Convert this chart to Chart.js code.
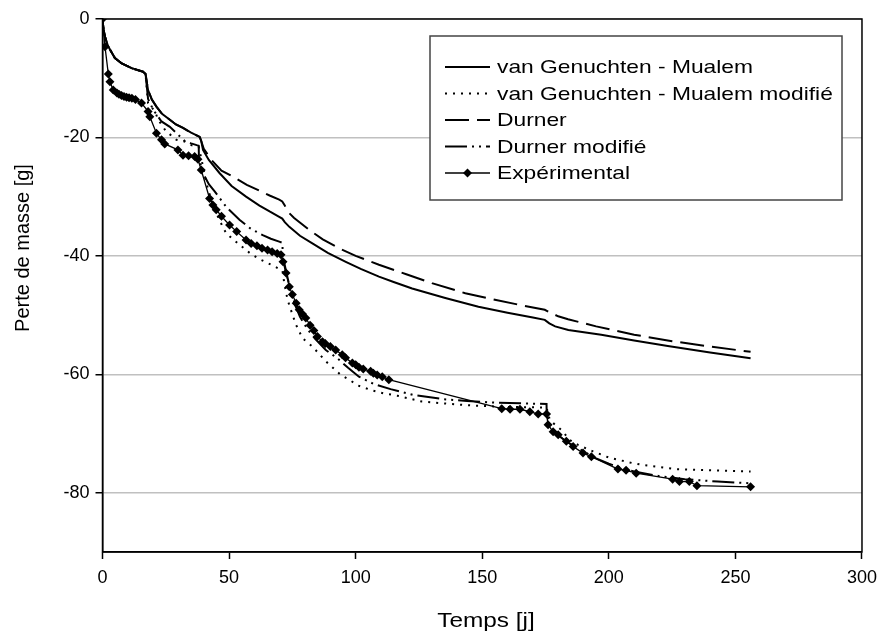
<!DOCTYPE html>
<html lang="fr">
<head>
<meta charset="utf-8">
<title>Perte de masse</title>
<script src="https://cdn.jsdelivr.net/npm/chart.js@4.4.1/dist/chart.umd.min.js"></script>
<style>
  html, body { margin: 0; padding: 0; background: #fff; }
  #wrap { position: relative; width: 885px; height: 642px; }
</style>
</head>
<body>
<div id="wrap"><canvas id="chart"></canvas></div>
<script>
// ---- Données (temps [j], perte de masse [g]) ----
const vgmT = [0, 0.4, 1, 2, 3, 4.9, 7.6, 11.5, 16, 17, 18, 19.5, 21.3, 23.5, 26.6, 29, 31.8, 35, 38.4,
  39, 39.7, 42, 46.2, 51, 56.7, 62, 66, 69.8, 71, 72, 73.8, 78, 82.9, 89, 96.1, 102, 109.2, 115, 122.3,
  135.4, 148.5, 160, 170, 174.7, 176.5, 178.8, 184, 197, 210, 223.3, 240, 256];
const vgmM = [0, -1.8, -3.0, -4.4, -5.2, -6.6, -7.5, -8.3, -8.9, -9.3, -12, -13.6, -14.8, -16, -17, -17.8, -18.4, -19.2, -19.9,
  -20.6, -22.1, -23.8, -26, -28.2, -30, -31.5, -32.5, -33.4, -33.7, -34.3, -35.1, -36.6, -37.9, -39.5, -41, -42.2, -43.5, -44.4, -45.5,
  -47.1, -48.6, -49.6, -50.4, -50.8, -51.4, -51.9, -52.5, -53.3, -54.3, -55.2, -56.3, -57.3];

const vgmModT = [0, 0.4, 1, 2, 3, 4.9, 7.6, 11.5, 16, 17, 18, 20.7, 22, 25, 29.2, 32.5, 35.1, 38,
  39.5, 41, 43, 45.6, 47.5, 48.9, 51, 54.1, 58.7, 62.3, 65.2, 68.5, 71.1,
  71.8, 73.1, 74.4, 76.4, 79, 82.9, 88.2, 94.1, 97.4, 101, 106.5, 111, 116.4, 126.2, 137.4, 147.2, 160, 175.4,
  176.7, 179, 181.3, 184.6, 187.8, 193.7, 200.3, 209.5, 213.4, 226.5, 239.7, 256];
const vgmModM = [0, -1.8, -3.0, -4.4, -5.2, -6.6, -7.5, -8.3, -8.9, -9.3, -14.2, -15.6, -17, -18.9, -20.4, -20.7, -21.3, -21.6,
  -24.5, -27.7, -30.6, -33.4, -35.1, -36.2, -37, -38.1, -39.7, -40.6, -41.2, -41.9, -42.5,
  -44.6, -47.4, -49.1, -51.6, -53.9, -55.3, -57.8, -60.1, -60.9, -61.9, -62.7, -63.2, -63.6, -64.6, -65, -65.3, -65.5, -65.6,
  -67.7, -68.6, -69.4, -71.1, -71.9, -73, -74.1, -75, -75.3, -76, -76.2, -76.4];

const durT = [0, 0.4, 1, 2, 3, 4.9, 7.6, 11.5, 16, 17, 18, 19.5, 21.3, 23.5, 26.6, 29, 31.8, 35, 38.4,
  39, 40, 43, 47, 51.5, 57, 62.6, 66, 69.8,
  71, 72, 73.1, 75.7, 81.6, 87, 93.4, 100, 109.2, 120, 130.1, 143.3, 155, 165, 174.7,
  177, 180, 183.9, 195, 210, 225, 240, 256];
const durM = [0, -1.8, -3.0, -4.4, -5.2, -6.6, -7.5, -8.3, -8.9, -9.3, -12, -13.6, -14.8, -16, -17, -17.8, -18.4, -19.2, -19.9,
  -20.6, -21.9, -23.8, -25.6, -26.6, -28, -29.1, -29.8, -30.5,
  -30.8, -31.5, -32.5, -33.6, -35.6, -37.2, -38.7, -40, -41.5, -43.1, -44.6, -46.3, -47.4, -48.3, -49.1,
  -49.6, -50.2, -50.7, -51.9, -53.3, -54.4, -55.3, -56.2];

const durModT = [0, 0.4, 1, 2, 3, 4.9, 7.6, 11.5, 16, 17, 18, 20, 23.3, 26.6, 30, 32.5, 35, 37.2, 38,
  38.1, 40, 42, 44.3, 49, 54.1, 58.5, 63.3, 66.5, 69.8, 71.1,
  71.15, 72.5, 74, 76, 78, 81, 84, 88.2, 92.8, 97, 101.3, 107, 113.8, 122.9, 134.7, 144, 155.7, 165, 175.4,
  175.45, 176.5, 178, 180, 183, 186, 190, 195, 200, 205, 210, 220, 230, 243, 256];
const durModM = [0, -1.8, -3.0, -4.4, -5.2, -6.6, -7.5, -8.3, -8.9, -9.3, -13.5, -15.3, -17.3, -18.2, -19.6, -20.6, -21, -21.3, -21.4,
  -23.7, -26.3, -27.9, -29.1, -31.8, -33.9, -35.4, -36.5, -37.1, -37.6, -37.8,
  -39.8, -42.6, -45.3, -48.2, -50.3, -52.4, -54, -55.9, -57.3, -58.9, -60.4, -61.6, -62.5, -63.5, -64.2, -64.5, -64.8, -64.9, -65,
  -66.7, -68.3, -69.5, -70.3, -71.3, -72, -73, -74.2, -75.1, -75.8, -76.4, -77.2, -77.7, -78.1, -78.4];

const expT = [0, 1, 2.3, 2.95, 4.25, 5.7, 6.5, 7.5, 8.5, 9.5, 10.5, 11.6, 13,
  15.4, 18, 18.7, 21.3, 23.3, 24.6, 29.8, 31.8, 34, 36.4, 37.7,
  39, 42.3, 43.6, 44.9, 47, 50.2, 53, 56.7, 58.7, 61, 63, 65.2, 67, 69, 70.5,
  71.3, 72.5, 73.8, 75, 76.5, 77.7, 79, 80.3, 82, 83.5, 84.9, 86.9, 88, 90, 92.1, 94.7, 96, 98.7, 100,
  101.3, 103, 105.9, 107, 108.5, 110.5, 113.1,
  157.7, 161, 164.9, 168.8, 172.1, 175.4,
  176, 178, 180, 183.2, 185.9, 189.8, 193.1, 203.6, 206.8, 210.8, 225.2, 227.9, 231.8, 234.8, 256];
const expM = [0, -4.7, -9.3, -10.6, -12, -12.5, -12.7, -12.9, -13.1, -13.2, -13.3, -13.4, -13.6,
  -14.2, -15.6, -16.5, -19.3, -20.4, -21.1, -22.1, -23, -23.1, -23.2, -23.7,
  -25.5, -30.3, -31.4, -32.2, -33.3, -34.8, -35.9, -37.3, -37.9, -38.3, -38.7, -39, -39.3, -39.6, -39.8,
  -41, -42.9, -45.2, -46.5, -48, -49.1, -49.8, -50.5, -51.7, -52.6, -53.6, -54.5, -54.8, -55.3, -55.9, -56.7, -57.2, -58.1, -58.4,
  -58.8, -59.1, -59.5, -59.8, -60.1, -60.4, -60.9,
  -65.8, -65.9, -65.9, -66.3, -66.7, -66.7,
  -68.5, -69.7, -70.2, -71.3, -72.2, -73.3, -73.9, -76, -76.2, -76.7, -77.7, -78.1, -78.1, -78.8, -79];

const yTicks = [0, -20, -40, -60, -80];
const xTitle = "Temps [j]";
const yTitle = "Perte de masse [g]";

// ---- Utilidades ----
const FONT = "'Liberation Sans', Arial, sans-serif";
function pts(ts, ms) {
  return ts.map((t, i) => ({ x: t, y: ms[i] }));
}
// texte légèrement élargi (la figure d'origine est étirée en largeur)
function wideText(ctx, txt, x, y, sx, align) {
  ctx.save();
  ctx.translate(x, y);
  ctx.scale(sx, 1);
  ctx.textAlign = align;
  ctx.fillText(txt, 0, 0);
  ctx.restore();
}

// ---- Plugins de dessin ----
const framePlugin = {
  id: "frame",
  afterDatasetsDraw(chart) {
    const { ctx, chartArea: a } = chart;
    ctx.save();
    ctx.strokeStyle = "#000";
    ctx.lineWidth = 1.5;
    ctx.strokeRect(a.left, a.top, a.right - a.left, a.bottom - a.top);
    ctx.restore();
  }
};

const titlesPlugin = {
  id: "titles",
  afterDraw(chart) {
    const { ctx } = chart;
    ctx.save();
    ctx.fillStyle = "#000";
    ctx.font = "20px " + FONT;
    ctx.textBaseline = "middle";
    wideText(ctx, xTitle, 486, 621, 1.22, "center");
    ctx.translate(23, 248);
    ctx.rotate(-Math.PI / 2);
    ctx.textAlign = "center";
    ctx.fillText(yTitle, 0, 0);
    ctx.restore();
  }
};

const legendBoxPlugin = {
  id: "legendBox",
  afterDraw(chart) {
    const { ctx } = chart;
    const box = { x: 430, y: 36, w: 412, h: 164 };
    ctx.save();
    ctx.fillStyle = "#fff";
    ctx.fillRect(box.x, box.y, box.w, box.h);
    ctx.strokeStyle = "#444";
    ctx.lineWidth = 1.5;
    ctx.strokeRect(box.x, box.y, box.w, box.h);
    ctx.font = "19px " + FONT;
    ctx.textBaseline = "middle";
    chart.data.datasets.forEach((ds, i) => {
      const y = 67 + i * 26.5;
      ctx.strokeStyle = ds.borderColor;
      ctx.lineWidth = ds.borderWidth;
      ctx.setLineDash(ds.borderDash || []);
      ctx.beginPath();
      ctx.moveTo(445, y);
      ctx.lineTo(490, y);
      ctx.stroke();
      ctx.setLineDash([]);
      if (ds.pointRadius > 0) {
        const r = ds.pointRadius;
        ctx.fillStyle = ds.backgroundColor;
        ctx.beginPath();
        ctx.moveTo(467.5, y - r);
        ctx.lineTo(467.5 + r, y);
        ctx.lineTo(467.5, y + r);
        ctx.lineTo(467.5 - r, y);
        ctx.closePath();
        ctx.fill();
      }
      ctx.fillStyle = "#000";
      wideText(ctx, ds.label, 497, y + 1, 1.2, "left");
    });
    ctx.restore();
  }
};

// ---- Graphique ----
const ctx = document.getElementById("chart").getContext("2d");
new Chart(ctx, {
  type: "line",
  data: {
    datasets: [
      {
        label: "van Genuchten - Mualem",
        data: pts(vgmT, vgmM),
        borderColor: "#000", backgroundColor: "#000",
        borderWidth: 2, pointRadius: 0, tension: 0
      },
      {
        label: "van Genuchten - Mualem modifié",
        data: pts(vgmModT, vgmModM),
        borderColor: "#000", backgroundColor: "#000",
        borderWidth: 2, borderDash: [2, 6], pointRadius: 0, tension: 0
      },
      {
        label: "Durner",
        data: pts(durT, durM),
        borderColor: "#000", backgroundColor: "#000",
        borderWidth: 2, borderDash: [24, 8], pointRadius: 0, tension: 0
      },
      {
        label: "Durner modifié",
        data: pts(durModT, durModM),
        borderColor: "#000", backgroundColor: "#000",
        borderWidth: 2, borderDash: [22, 5, 2, 5, 2, 5], pointRadius: 0, tension: 0
      },
      {
        label: "Expérimental",
        data: pts(expT, expM),
        borderColor: "#000", backgroundColor: "#000",
        borderWidth: 1.3, pointStyle: "rectRot", pointRadius: 4.5, pointBorderWidth: 0,
        tension: 0
      }
    ]
  },
  options: {
    responsive: true,
    maintainAspectRatio: false,
    animation: false,
    layout: { padding: { top: 19, right: 20, left: 0, bottom: 0 } },
    plugins: {
      legend: { display: false },
      tooltip: { enabled: false }
    },
    scales: {
      x: {
        type: "linear",
        min: 0, max: 300,
        afterFit: s => { s.height = 90; },
        ticks: { stepSize: 50, color: "#000", padding: 8, font: { family: FONT, size: 18 } },
        grid: { drawOnChartArea: false, tickLength: 7, tickColor: "#000", tickWidth: 1.5 },
        border: { color: "#000", width: 1.5 }
      },
      y: {
        type: "linear",
        min: -90, max: 0,
        afterFit: s => { s.width = 102.5; },
        afterBuildTicks: s => { s.ticks = yTicks.map(v => ({ value: v })); },
        ticks: { color: "#000", padding: 6, font: { family: FONT, size: 18 } },
        grid: {
          color: "#c0c0c0", lineWidth: 1.5,
          tickLength: 7, tickColor: "#000", tickWidth: 1.5
        },
        border: { color: "#000", width: 1.5 }
      }
    }
  },
  plugins: [framePlugin, titlesPlugin, legendBoxPlugin]
});
</script>
</body>
</html>
